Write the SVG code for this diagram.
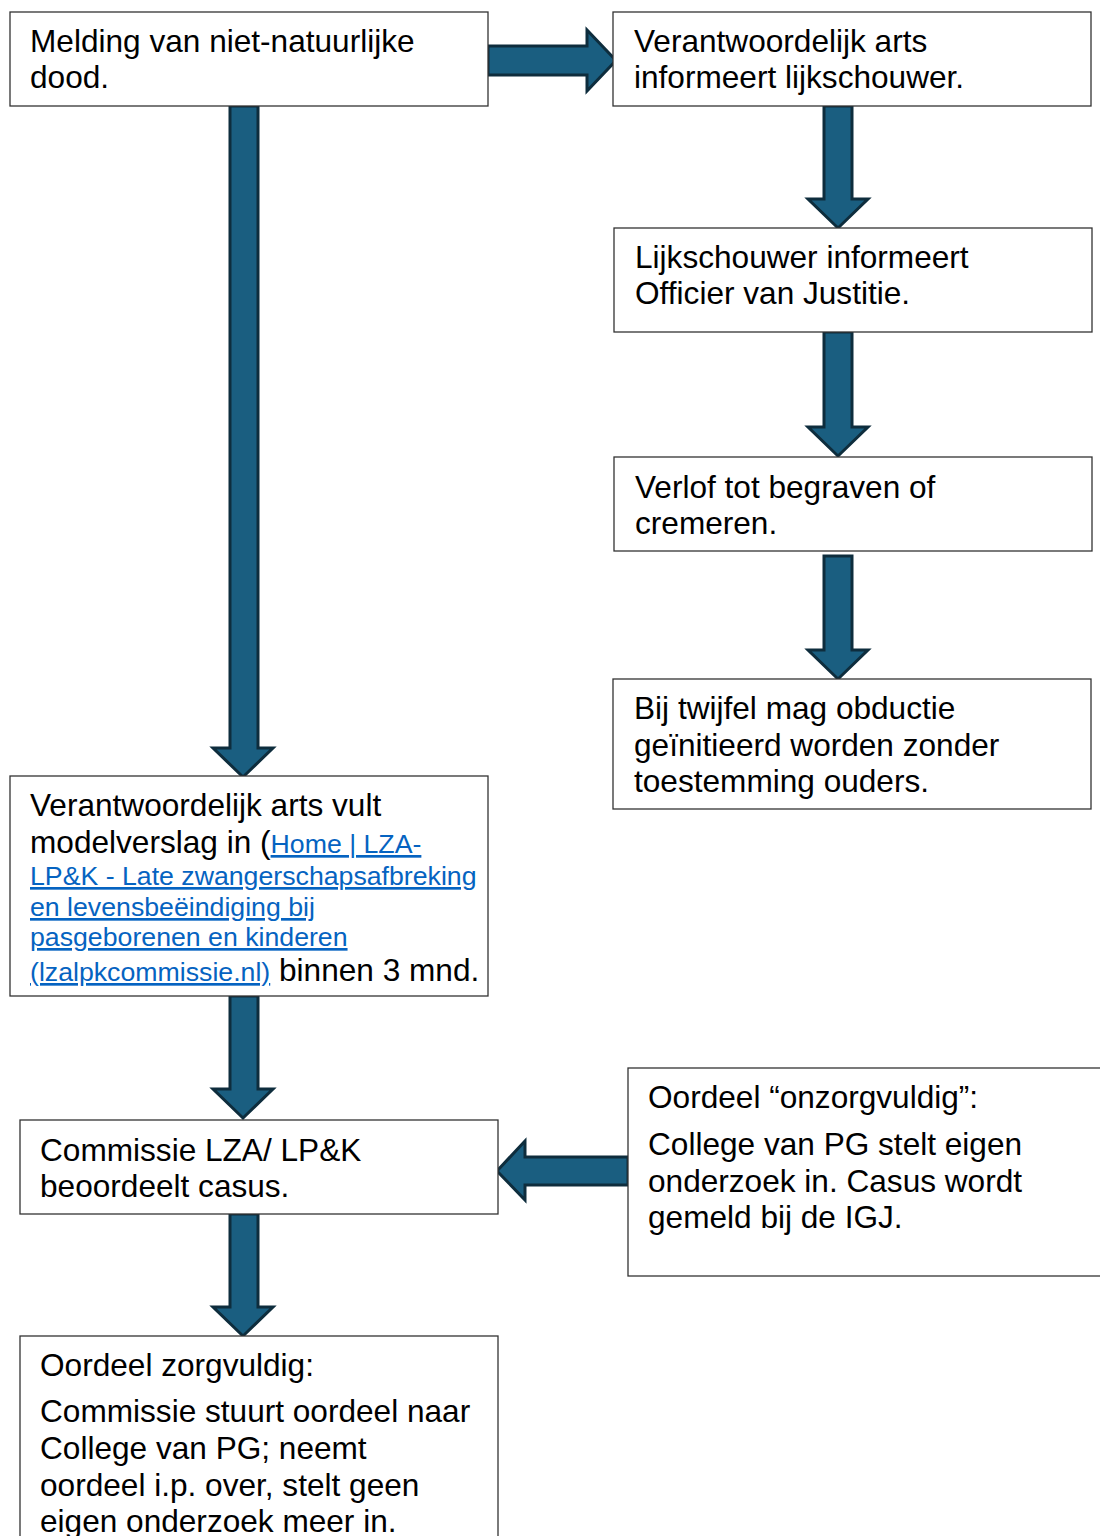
<svg xmlns="http://www.w3.org/2000/svg" width="1100" height="1536" viewBox="0 0 1100 1536">
<style>
.box{fill:#ffffff;stroke:#333333;stroke-width:1.3}
.t{font-family:"Liberation Sans",Arial,sans-serif;font-size:31.6px;fill:#000000}
.lk{font-family:"Liberation Sans",Arial,sans-serif;font-size:26.7px;fill:#0563c1;text-decoration:underline}
.arr{fill:#1a5e80;stroke:#0e2d3d;stroke-width:3;stroke-linejoin:miter}
</style>
<rect width="1100" height="1536" fill="#ffffff"/>
<g id="connectors">
<polygon class="arr" points="488,46 587,46 587,30 616,60.5 587,91 587,75 488,75"/>
<polygon class="arr" points="230,106 258,106 258,748 273,748 243,777 213,748 230,748"/>
<polygon class="arr" points="824,106 852,106 852,199 868,199 838,228 808,199 824,199"/>
<polygon class="arr" points="824,332 852,332 852,427 868,427 838,456 808,427 824,427"/>
<polygon class="arr" points="824,556 852,556 852,650 868,650 838,679 808,650 824,650"/>
<polygon class="arr" points="230,996 258,996 258,1089 273,1089 243,1118 213,1089 230,1089"/>
<polygon class="arr" points="230,1214 258,1214 258,1307 273,1307 243,1336 213,1307 230,1307"/>
<polygon class="arr" points="628,1157 525,1157 525,1141 497,1171 525,1200 525,1185 628,1185"/>
</g>
<g id="n1">
<rect class="box" x="10" y="12" width="478" height="94"/>
<text class="t" x="30" y="52">Melding van niet-natuurlijke</text>
<text class="t" x="30" y="88">dood.</text>
</g>
<g id="n2">
<rect class="box" x="613" y="12" width="478" height="94"/>
<text class="t" x="634" y="52">Verantwoordelijk arts</text>
<text class="t" x="634" y="88">informeert lijkschouwer.</text>
</g>
<g id="n3">
<rect class="box" x="614" y="228" width="478" height="104"/>
<text class="t" x="635" y="268">Lijkschouwer informeert</text>
<text class="t" x="635" y="304">Officier van Justitie.</text>
</g>
<g id="n4">
<rect class="box" x="614" y="457" width="478" height="94"/>
<text class="t" x="635" y="498">Verlof tot begraven of</text>
<text class="t" x="635" y="534">cremeren.</text>
</g>
<g id="n5">
<rect class="box" x="613" y="679" width="478" height="130"/>
<text class="t" x="634" y="719">Bij twijfel mag obductie</text>
<text class="t" x="634" y="756">geïnitieerd worden zonder</text>
<text class="t" x="634" y="792">toestemming ouders.</text>
</g>
<g id="n6">
<rect class="box" x="10" y="776" width="478" height="220"/>
<text class="t" x="30" y="816">Verantwoordelijk arts vult</text>
<text class="t" x="30" y="853">modelverslag in (<tspan class="lk">Home | LZA-</tspan></text>
<text class="lk" x="30" y="885">LP&amp;K - Late zwangerschapsafbreking</text>
<text class="lk" x="30" y="916">en levensbeëindiging bij</text>
<text class="lk" x="30" y="946">pasgeborenen en kinderen</text>
<text class="t" x="30" y="981"><tspan class="lk">(lzalpkcommissie.nl)</tspan> binnen 3 mnd.</text>
</g>
<g id="n7">
<rect class="box" x="20" y="1120" width="478" height="94"/>
<text class="t" x="40" y="1161">Commissie LZA/ LP&amp;K</text>
<text class="t" x="40" y="1197">beoordeelt casus.</text>
</g>
<g id="n8">
<rect class="box" x="628" y="1068" width="480" height="208"/>
<text class="t" x="648" y="1108">Oordeel “onzorgvuldig”:</text>
<text class="t" x="648" y="1155">College van PG stelt eigen</text>
<text class="t" x="648" y="1192">onderzoek in. Casus wordt</text>
<text class="t" x="648" y="1228">gemeld bij de IGJ.</text>
</g>
<g id="n9">
<rect class="box" x="20" y="1336" width="478" height="220"/>
<text class="t" x="40" y="1376">Oordeel zorgvuldig:</text>
<text class="t" x="40" y="1422">Commissie stuurt oordeel naar</text>
<text class="t" x="40" y="1459">College van PG; neemt</text>
<text class="t" x="40" y="1496">oordeel i.p. over, stelt geen</text>
<text class="t" x="40" y="1532">eigen onderzoek meer in.</text>
</g>
</svg>
